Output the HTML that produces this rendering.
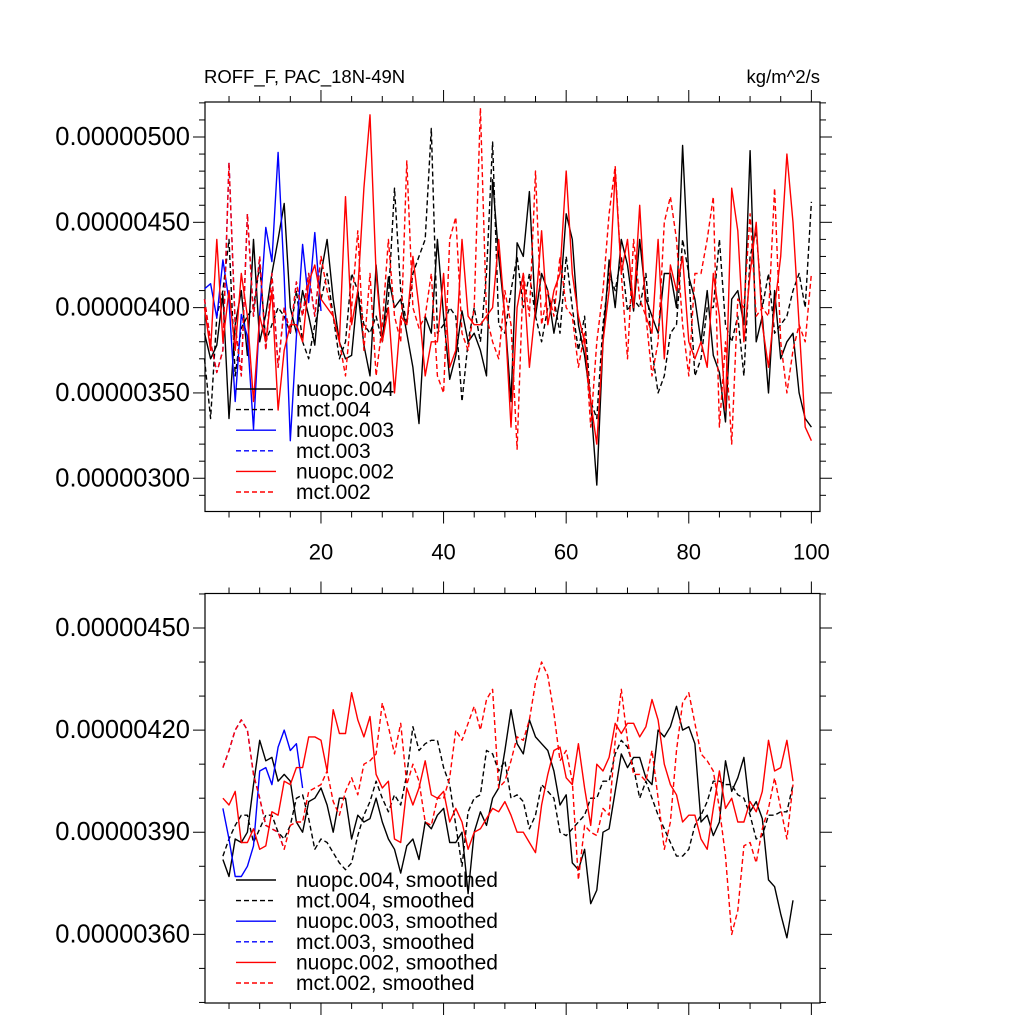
<!DOCTYPE html>
<html><head><meta charset="utf-8">
<style>
body{margin:0;background:#fff;}
svg{display:block;font-family:"Liberation Sans",sans-serif;}
</style></head>
<body>
<svg id="chart" width="1024" height="1024" viewBox="0 0 1024 1024" xmlns="http://www.w3.org/2000/svg">
<rect width="1024" height="1024" fill="#fff"/>
<text x="204" y="83" font-size="18.5">ROFF_F, PAC_18N-49N</text>
<text x="820" y="83" font-size="18.5" text-anchor="end">kg/m^2/s</text>
<g id="top"></g>
<g id="bot"></g>
</svg>
<script>
// ---- data (values in units of 1e-8 kg/m^2/s) ----
const xTickLabels = [20, 40, 60, 80, 100];
const topYTicks = [500, 450, 400, 350, 300];
const botYTicks = [450, 420, 390, 360];
const nuopc004 = [385,370,378,408,335,390,410,372,440,380,396,420,440,461,400,385,410,395,378,420,440,405,380,370,372,410,378,360,425,380,418,400,405,385,365,332,395,385,440,395,358,372,398,380,385,375,360,475,430,395,345,438,430,468,395,420,410,385,405,455,440,390,372,345,296,380,428,400,440,425,398,440,405,395,385,420,420,400,495,418,405,380,410,372,362,333,405,410,390,492,380,395,350,410,370,380,385,350,335,330];
const mct004 = [370,335,395,410,440,360,388,395,400,425,380,390,400,395,385,410,380,370,390,405,420,395,370,380,420,410,390,385,395,380,405,470,410,390,420,430,440,505,385,390,400,395,345,380,400,380,420,497,390,385,410,430,400,420,395,380,400,405,385,430,400,375,395,345,335,390,420,410,430,398,405,400,420,375,350,360,385,390,440,420,360,370,400,400,440,390,380,395,360,430,445,400,420,385,390,395,410,420,400,462];
const nuopc003 = [411,414,394,428,404,345,396,383,329,396,447,427,491,418,322,383,437,403,444,398];
const mct003 = [405,380,362,375,485,390,360,455,395,430,375,420,365,400,385,415,395,420,395,430];
const nuopc002 = [400,375,440,380,410,375,420,395,345,395,380,410,340,375,390,390,380,415,425,405,400,395,380,465,390,410,470,513,420,380,400,350,395,390,430,400,360,380,380,420,365,375,440,395,390,390,395,400,440,395,330,400,420,365,400,445,390,410,420,480,420,395,380,345,320,380,410,480,420,440,400,460,395,385,440,370,425,410,430,380,370,380,365,420,395,340,470,445,380,420,450,390,365,400,430,490,450,390,330,322];
const mct002 = [405,380,362,375,485,390,360,455,395,430,375,420,365,400,385,415,395,420,395,430,410,395,380,360,400,445,375,420,360,390,440,395,380,486,400,388,395,420,360,350,440,453,385,375,400,517,395,380,370,410,390,317,420,395,480,390,410,395,430,400,395,365,385,330,380,410,455,483,420,370,440,405,395,360,380,450,465,440,390,360,420,420,440,465,330,380,320,405,400,455,395,400,395,470,380,350,375,390,380,420];
const nuopc004s = [382,377,388,387,390,404,417,411,412,405,407,405,393,390,399,400,403,398,390,400,400,388,395,393,394,400,393,388,385,378,386,388,382,393,391,395,397,387,387,390,372,390,396,392,400,403,414,426,416,413,423,418,416,414,408,398,401,381,379,385,369,373,390,391,402,413,409,412,412,406,404,420,418,421,427,420,421,416,393,395,389,393,411,402,406,412,396,399,394,376,374,366,359,370];
const mct004s = [383,388,392,395,395,387,391,395,395,390,388,392,400,401,394,385,388,387,384,381,379,381,389,395,399,405,400,396,401,398,407,421,414,416,417,417,409,404,392,380,396,400,401,414,413,408,411,400,401,399,391,395,404,402,400,390,389,391,393,395,400,400,405,405,413,417,415,409,400,405,400,395,391,387,383,383,385,392,395,399,405,405,404,404,401,400,395,388,389,395,395,396,396,404];
const nuopc003s = [397,388,377,377,380,386,408,409,404,415,420,414,416,403];
const mct003s = [409,414,420,423,420,407,400,392,391,390,385];
const nuopc002s = [400,398,402,387,387,391,385,386,396,395,405,404,409,409,418,418,417,408,426,419,419,431,423,418,424,407,403,405,388,387,403,398,403,411,401,400,402,393,397,393,385,390,391,394,397,396,399,395,390,390,387,384,398,407,414,415,406,404,416,403,392,410,408,412,422,419,422,422,418,421,429,423,410,404,401,393,395,395,388,385,397,408,397,400,393,393,399,396,402,417,408,409,417,405];
const mct002s = [409,414,420,423,420,407,400,392,391,390,385,392,393,393,402,403,404,408,399,395,402,406,401,410,411,413,428,421,413,422,404,410,405,393,392,400,400,406,420,417,422,427,420,429,432,403,405,411,418,417,423,434,440,436,425,411,414,405,376,392,390,389,397,395,417,432,417,407,407,405,414,400,385,393,414,428,431,422,413,411,408,397,383,360,367,386,387,381,391,397,406,397,388,404];

const NS = 'http://www.w3.org/2000/svg';
function mk(tag, attrs, parent){const e=document.createElementNS(NS,tag);for(const k in attrs)e.setAttribute(k,attrs[k]);parent.appendChild(e);return e;}

const X0=204.5, XS=6.13;
function xScale(x){return X0+(x-1)*XS;}
const L=205,R=820;

function panel(g, top, bottom, yVal, yPix, yMin, yMax, majorTicks, minorStep, showXLabels){
  const ys = v => yPix + (yVal - v)*(bottom-top)/(yMax-yMin);
  const frame = mk('rect',{x:L,y:top,width:R-L,height:bottom-top,fill:'none',stroke:'#000','stroke-width':1.2},g);
  
  
  for(let v=Math.ceil(yMin/minorStep)*minorStep; v<=yMax; v+=minorStep){
    const y=ys(v);
    const major = majorTicks.some(t=>Math.abs(t-v)<1e-6);
    const len = major?12:6;
    mk('line',{x1:L-len,y1:y,x2:L,y2:y,stroke:'#000','stroke-width':1},g);
    mk('line',{x1:R,y1:y,x2:R+len,y2:y,stroke:'#000','stroke-width':1},g);
  }
  majorTicks.forEach(v=>{
    const t = mk('text',{x:190,y:ys(v)+8,'font-size':25.5,'text-anchor':'end'},g);
    t.textContent = (v*1e-8).toFixed(8);
    
    
  });
  for(let x=5;x<=100;x+=5){
    const px=xScale(x);
    const len = x%20===0?12:6;
    mk('line',{x1:px,y1:bottom,x2:px,y2:bottom+len,stroke:'#000','stroke-width':1},g);
    mk('line',{x1:px,y1:top-len,x2:px,y2:top,stroke:'#000','stroke-width':1},g);
  }
  if(showXLabels){
    xTickLabels.forEach(x=>{
      const t=mk('text',{x:xScale(x),y:bottom+48,'font-size':22,'text-anchor':'middle'},g);
      t.textContent=x;
      
      
    });
  }
  return ys;
}
function series(g, data, x0, ys, color, dashed, name){
  const pts = data.map((v,i)=>xScale(x0+i).toFixed(1)+','+ys(v).toFixed(1)).join(' ');
  const p = mk('polyline',{points:pts,fill:'none',stroke:color,'stroke-width':1.4,'stroke-linejoin':'round'},g);
  if(dashed) p.setAttribute('stroke-dasharray','5,3');
  
  
}
function legend(g, y0, dy, items){
  items.forEach((it,i)=>{
    const y=y0+i*dy;
    const l=mk('line',{x1:236,y1:y,x2:276,y2:y,stroke:it[1],'stroke-width':1.4},g);
    if(it[2]) l.setAttribute('stroke-dasharray','5,3');
    const t=mk('text',{x:296,y:y+7,'font-size':21},g);
    t.textContent=it[0];
    
    
  });
}

const gt=document.getElementById('top');
const yt=panel(gt,102,511.5,500,137,280.6,520.6,topYTicks,10,true);
series(gt,nuopc004,1,yt,'#000',false,'nuopc004-line');
series(gt,mct004,1,yt,'#000',true,'mct004-line');
series(gt,nuopc003,1,yt,'#00f',false,'nuopc003-line');
series(gt,mct003,1,yt,'#00f',true,'mct003-line');
series(gt,nuopc002,1,yt,'#f00',false,'nuopc002-line');
series(gt,mct002,1,yt,'#f00',true,'mct002-line');
legend(gt,389,20.6,[['nuopc.004','#000',false],['mct.004','#000',true],['nuopc.003','#00f',false],['mct.003','#00f',true],['nuopc.002','#f00',false],['mct.002','#f00',true]]);

const gb=document.getElementById('bot');
const yb=panel(gb,593.5,1003,450,628,340,460.3,botYTicks,10,false);
series(gb,nuopc004s,4,yb,'#000',false,'nuopc004-smoothed-line');
series(gb,mct004s,4,yb,'#000',true,'mct004-smoothed-line');
series(gb,nuopc003s,4,yb,'#00f',false,'nuopc003-smoothed-line');
series(gb,mct003s,4,yb,'#00f',true,'mct003-smoothed-line');
series(gb,nuopc002s,4,yb,'#f00',false,'nuopc002-smoothed-line');
series(gb,mct002s,4,yb,'#f00',true,'mct002-smoothed-line');
legend(gb,880,20.6,[['nuopc.004, smoothed','#000',false],['mct.004, smoothed','#000',true],['nuopc.003, smoothed','#00f',false],['mct.003, smoothed','#00f',true],['nuopc.002, smoothed','#f00',false],['mct.002, smoothed','#f00',true]]);
</script>
</body></html>
